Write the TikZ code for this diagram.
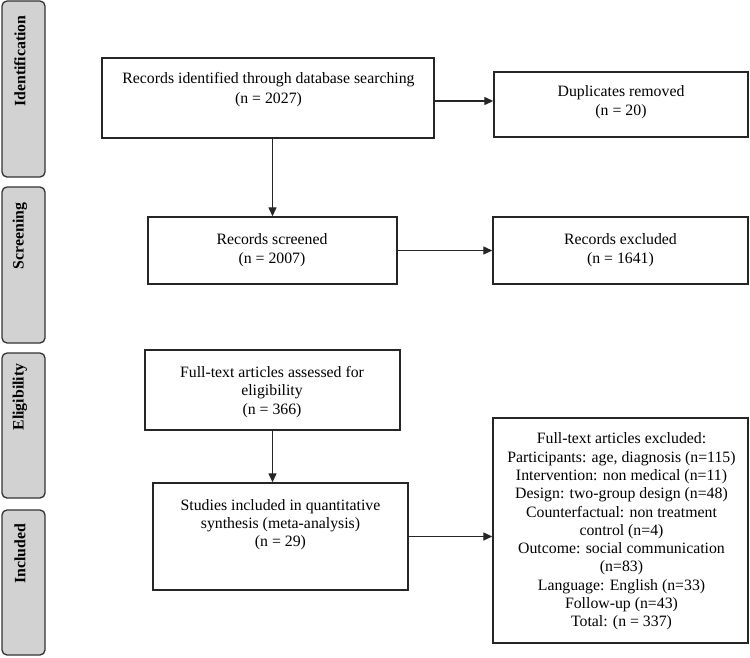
\documentclass[tikz,border=0pt]{standalone}
\usepackage{fontspec}
\setmainfont{Liberation Serif}
\usetikzlibrary{arrows.meta,calc}
\begin{document}
\begin{tikzpicture}[x=1pt,y=-1pt,
  box/.style={draw=black!85, line width=1.4pt, rectangle, inner sep=0pt},
  txt/.style={align=center, inner sep=0pt, font=\fontsize{15.8}{18.5}\selectfont},
  side/.style={draw=black!80, fill=gray!35, rounded corners=5pt, line width=1.3pt, inner sep=0pt, minimum width=43pt},
  sidetxt/.style={rotate=90, inner sep=0pt, font=\bfseries\fontsize{15.8}{18}\selectfont},
  arr/.style={-{Triangle[length=9pt,width=8pt]}, line width=1.3pt, draw=black!85}]
\useasboundingbox (0,0) rectangle (750,657);

% phase labels
\node[side, minimum height=176pt] (sid) at (23.5,89) {};
\node[side, minimum height=156pt] (ssc) at (23.5,265) {};
\node[side, minimum height=145pt] (sel) at (23.5,425.5) {};
\node[side, minimum height=145pt] (sin) at (23.5,582.5) {};
\node[sidetxt] (lid) at (20,61) {Identification};
\node[sidetxt] (lsc) at (20,236) {Screening};
\node[sidetxt] (lel) at (20,397) {Eligibility};
\node[sidetxt] (lin) at (20,554) {Included};

% boxes
\node[box, minimum width=332pt, minimum height=80pt] (top) at (268,98) {};
\node[box, minimum width=254pt, minimum height=65pt] (dup) at (621,104.5) {};
\node[box, minimum width=249pt, minimum height=67pt] (scr) at (272.5,250.5) {};
\node[box, minimum width=255pt, minimum height=67pt] (rex) at (620.5,250.5) {};
\node[box, minimum width=255pt, minimum height=80pt] (ass) at (272.5,390) {};
\node[box, minimum width=255pt, minimum height=107pt] (stu) at (280.5,536.5) {};
\node[box, minimum width=255pt, minimum height=225pt] (fex) at (620.5,530.5) {};

% texts
\node[txt, font=\fontsize{15.8}{20}\selectfont] (ttop) at (268.5,90) {Records identified through database searching\\(n = 2027)};
\node[txt, font=\fontsize{15.8}{19}\selectfont] (tdup) at (621,102.5) {Duplicates removed\\(n = 20)};
\node[txt, font=\fontsize{15.8}{19}\selectfont] (tscr) at (272,250) {Records screened\\(n = 2007)};
\node[txt, font=\fontsize{15.8}{19}\selectfont] (trex) at (620.5,250) {Records excluded\\(n = 1641)};
\node[txt] (tass) at (272,392) {Full-text articles assessed for\\eligibility\\(n = 366)};
\node[txt, font=\fontsize{15.8}{18}\selectfont] (tstu) at (280.5,525) {Studies included in quantitative\\synthesis (meta-analysis)\\(n = 29)};
\node[txt, font=\fontsize{15.8}{18.3}\selectfont] (tfex) at (621.5,531.5) {Full-text articles excluded:\\Participants: age, diagnosis (n=115)\\Intervention: non medical (n=11)\\Design: two-group design (n=48)\\Counterfactual: non treatment\\control (n=4)\\Outcome: social communication\\(n=83)\\Language: English (n=33)\\Follow-up (n=43)\\Total: (n = 337)};

% connectors
\draw[arr] ([yshift=-3pt]top.east) -- ([yshift=-3pt]top.east -| dup.west);
\draw[arr] (top.south -| scr.north) -- (scr.north);
\draw[arr] (scr.east) -- (scr.east -| rex.west);
\draw[arr] (ass.south) -- (ass.south |- stu.north);
\draw[arr] (stu.east) -- (stu.east -| fex.west);
\end{tikzpicture}
\end{document}
